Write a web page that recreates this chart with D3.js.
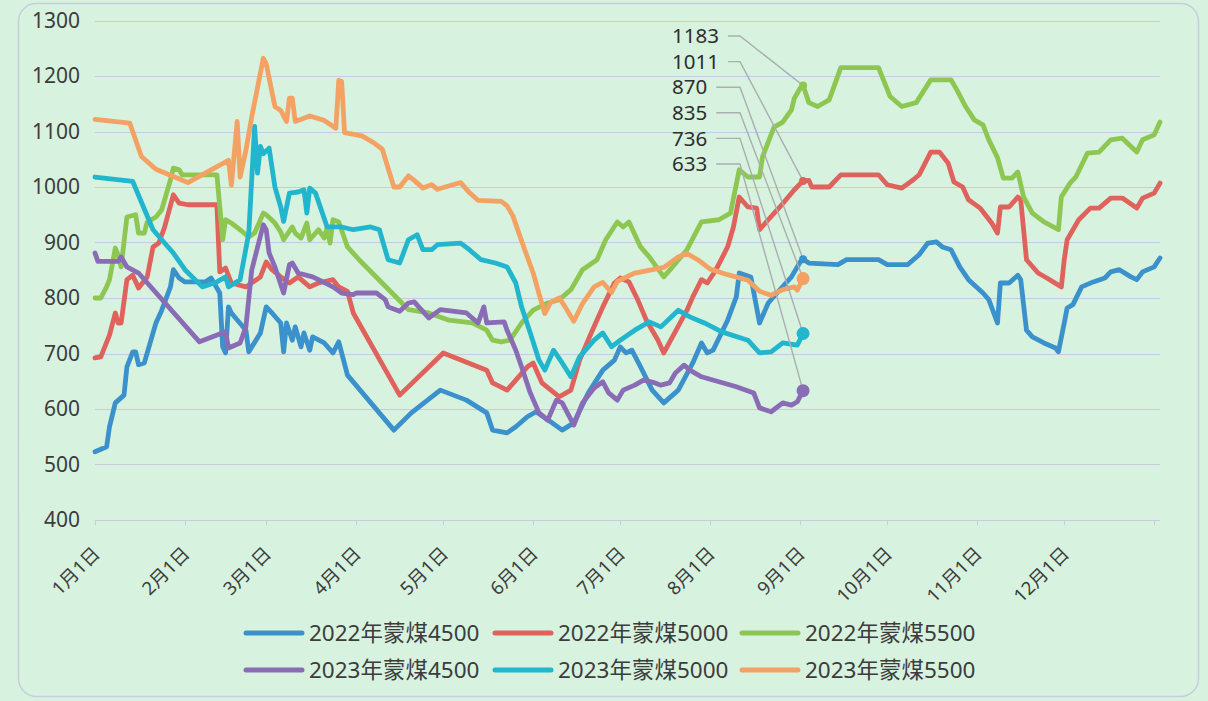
<!DOCTYPE html>
<html>
<head>
<meta charset="utf-8">
<script src="https://cdn.jsdelivr.net/npm/d3@7"></script>
<style>
  body { margin: 0; background: #d7f2df; }
  svg text { font-family: "Noto Sans", "Noto Sans CJK SC", sans-serif; fill: #3c3c3c; }
</style>
</head>
<body>
<div id="container"></div>
<script>
/* CONSTANTS AND GLOBALS */
const width = 1208,
  height = 701,
  margin = { top: 20.5, bottom: 181, left: 95, right: 48 };

/* DATA */
const yTicks = [400, 500, 600, 700, 800, 900, 1000, 1100, 1200, 1300];
const monthLabels = ["1月1日", "2月1日", "3月1日", "4月1日", "5月1日", "6月1日",
  "7月1日", "8月1日", "9月1日", "10月1日", "11月1日", "12月1日"];
const seriesNames = ["2022年蒙煤4500", "2022年蒙煤5000", "2022年蒙煤5500",
  "2023年蒙煤4500", "2023年蒙煤5000", "2023年蒙煤5500"];
const seriesColors = ["#3a91cb", "#e0625c", "#8dc752", "#8a6cb6", "#22b5ce", "#f4a263"];
const labelDay = "09-02";

const coal2022_4500 = [["2022-01-01",523],["2022-01-05",532],["2022-01-06",568],["2022-01-08",611],["2022-01-11",625],["2022-01-12",676],["2022-01-14",703],["2022-01-15",703],["2022-01-16",680],["2022-01-18",683],["2022-01-20",719],["2022-01-22",755],["2022-01-24",778],["2022-01-27",820],["2022-01-28",851],["2022-01-30",836],["2022-02-01",829],["2022-02-08",829],["2022-02-10",836],["2022-02-13",809],["2022-02-14",712],["2022-02-15",701],["2022-02-16",784],["2022-02-17",773],["2022-02-22",742],["2022-02-23",703],["2022-02-27",737],["2022-03-01",784],["2022-03-03",773],["2022-03-06",755],["2022-03-07",703],["2022-03-08",755],["2022-03-10",724],["2022-03-11",748],["2022-03-13",712],["2022-03-14",737],["2022-03-16",706],["2022-03-17",730],["2022-03-21",719],["2022-03-24",701],["2022-03-26",721],["2022-03-29",661],["2022-04-14",562],["2022-04-20",593],["2022-04-30",634],["2022-05-09",616],["2022-05-16",593],["2022-05-18",562],["2022-05-23",557],["2022-05-26",568],["2022-05-30",586],["2022-06-02",595],["2022-06-07",577],["2022-06-11",562],["2022-06-15",575],["2022-06-20",629],["2022-06-25",670],["2022-06-29",688],["2022-07-01",712],["2022-07-03",701],["2022-07-05",706],["2022-07-08",676],["2022-07-12",634],["2022-07-16",611],["2022-07-21",634],["2022-07-26",683],["2022-07-29",719],["2022-07-31",701],["2022-08-02",706],["2022-08-07",760],["2022-08-10",802],["2022-08-11",845],["2022-08-15",838],["2022-08-18",755],["2022-08-21",791],["2022-08-24",809],["2022-08-29",838],["2022-09-01",865],["2022-09-02",870],["2022-09-04",863],["2022-09-14",860],["2022-09-17",869],["2022-09-28",869],["2022-10-01",860],["2022-10-08",860],["2022-10-12",878],["2022-10-15",899],["2022-10-18",901],["2022-10-20",892],["2022-10-23",887],["2022-10-26",856],["2022-10-29",833],["2022-11-03",809],["2022-11-05",797],["2022-11-08",755],["2022-11-09",827],["2022-11-12",827],["2022-11-15",841],["2022-11-16",833],["2022-11-18",742],["2022-11-20",730],["2022-11-24",719],["2022-11-28",710],["2022-11-29",703],["2022-12-01",755],["2022-12-02",782],["2022-12-04",788],["2022-12-07",820],["2022-12-11",829],["2022-12-15",836],["2022-12-17",847],["2022-12-20",851],["2022-12-24",838],["2022-12-26",833],["2022-12-28",847],["2023-01-01",856],["2023-01-03",872]];

const coal2022_5000 = [["2022-01-01",692],["2022-01-03",694],["2022-01-06",733],["2022-01-08",773],["2022-01-09",755],["2022-01-10",755],["2022-01-12",833],["2022-01-14",841],["2022-01-16",818],["2022-01-19",838],["2022-01-21",892],["2022-01-23",899],["2022-01-25",928],["2022-01-28",986],["2022-01-30",971],["2022-02-02",968],["2022-02-12",968],["2022-02-13",847],["2022-02-15",854],["2022-02-17",827],["2022-02-22",820],["2022-02-27",838],["2022-03-01",865],["2022-03-03",851],["2022-03-06",838],["2022-03-09",827],["2022-03-12",838],["2022-03-16",820],["2022-03-19",827],["2022-03-24",833],["2022-03-26",820],["2022-03-29",812],["2022-03-31",773],["2022-04-16",625],["2022-05-01",701],["2022-05-16",670],["2022-05-18",647],["2022-05-23",634],["2022-05-26",652],["2022-05-30",676],["2022-06-01",683],["2022-06-04",647],["2022-06-10",622],["2022-06-14",634],["2022-06-17",688],["2022-06-21",737],["2022-06-25",784],["2022-06-29",827],["2022-07-01",836],["2022-07-04",829],["2022-07-07",797],["2022-07-10",760],["2022-07-14",724],["2022-07-16",701],["2022-07-19",730],["2022-07-24",778],["2022-07-26",802],["2022-07-29",833],["2022-07-31",827],["2022-08-03",851],["2022-08-07",892],["2022-08-09",928],["2022-08-11",982],["2022-08-14",964],["2022-08-17",962],["2022-08-18",923],["2022-08-21",941],["2022-08-25",964],["2022-08-30",995],["2022-09-02",1011],["2022-09-04",1012],["2022-09-05",1000],["2022-09-11",1000],["2022-09-15",1022],["2022-09-28",1022],["2022-10-01",1004],["2022-10-06",998],["2022-10-10",1013],["2022-10-12",1022],["2022-10-16",1063],["2022-10-19",1063],["2022-10-22",1043],["2022-10-24",1009],["2022-10-27",1000],["2022-10-29",977],["2022-11-02",962],["2022-11-06",935],["2022-11-08",917],["2022-11-09",964],["2022-11-12",964],["2022-11-15",982],["2022-11-16",977],["2022-11-18",869],["2022-11-22",845],["2022-11-25",836],["2022-11-30",820],["2022-12-01",869],["2022-12-02",905],["2022-12-06",941],["2022-12-10",962],["2022-12-13",962],["2022-12-17",980],["2022-12-21",980],["2022-12-26",962],["2022-12-28",980],["2023-01-01",989],["2023-01-03",1007]];

const coal2022_5500 = [["2022-01-01",800],["2022-01-03",800],["2022-01-05",820],["2022-01-06",833],["2022-01-08",890],["2022-01-09",877],["2022-01-10",856],["2022-01-12",946],["2022-01-15",950],["2022-01-16",917],["2022-01-18",917],["2022-01-19",937],["2022-01-22",946],["2022-01-24",959],["2022-01-27",1013],["2022-01-28",1034],["2022-01-30",1031],["2022-01-31",1022],["2022-02-12",1022],["2022-02-13",964],["2022-02-14",905],["2022-02-15",941],["2022-02-17",935],["2022-02-20",923],["2022-02-23",910],["2022-02-25",917],["2022-02-28",953],["2022-03-01",950],["2022-03-04",935],["2022-03-06",919],["2022-03-07",905],["2022-03-10",928],["2022-03-11",917],["2022-03-13",908],["2022-03-15",935],["2022-03-16",905],["2022-03-19",923],["2022-03-21",908],["2022-03-22",928],["2022-03-23",899],["2022-03-24",941],["2022-03-26",937],["2022-03-29",892],["2022-04-02",869],["2022-04-16",795],["2022-04-19",779],["2022-04-26",773],["2022-05-03",760],["2022-05-11",755],["2022-05-16",742],["2022-05-18",724],["2022-05-21",721],["2022-05-24",724],["2022-05-28",755],["2022-06-01",778],["2022-06-06",791],["2022-06-10",797],["2022-06-14",815],["2022-06-18",851],["2022-06-23",869],["2022-06-26",905],["2022-06-30",937],["2022-07-02",928],["2022-07-04",937],["2022-07-08",892],["2022-07-11",874],["2022-07-16",838],["2022-07-19",856],["2022-07-24",887],["2022-07-29",937],["2022-08-04",941],["2022-08-08",953],["2022-08-11",1031],["2022-08-14",1018],["2022-08-18",1018],["2022-08-19",1054],["2022-08-23",1108],["2022-08-26",1117],["2022-08-29",1139],["2022-08-30",1160],["2022-09-01",1178],["2022-09-02",1183],["2022-09-04",1152],["2022-09-07",1145],["2022-09-11",1157],["2022-09-15",1215],["2022-09-28",1215],["2022-10-02",1163],["2022-10-06",1145],["2022-10-11",1152],["2022-10-16",1193],["2022-10-23",1193],["2022-10-25",1175],["2022-10-28",1145],["2022-10-31",1121],["2022-11-03",1112],["2022-11-05",1085],["2022-11-08",1053],["2022-11-10",1016],["2022-11-13",1016],["2022-11-15",1027],["2022-11-17",982],["2022-11-20",953],["2022-11-24",937],["2022-11-29",923],["2022-11-30",982],["2022-12-03",1007],["2022-12-05",1018],["2022-12-09",1061],["2022-12-13",1063],["2022-12-17",1085],["2022-12-21",1088],["2022-12-26",1063],["2022-12-28",1085],["2023-01-01",1094],["2023-01-03",1117]];

const coal2023_4500 = [["2023-01-01",881],["2023-01-02",866],["2023-01-09",866],["2023-01-10",874],["2023-01-12",856],["2023-01-16",845],["2023-02-06",721],["2023-02-15",739],["2023-02-16",710],["2023-02-20",719],["2023-02-22",748],["2023-02-24",850],["2023-02-28",932],["2023-03-01",923],["2023-03-02",881],["2023-03-04",856],["2023-03-07",809],["2023-03-09",860],["2023-03-10",863],["2023-03-12",845],["2023-03-17",838],["2023-03-19",833],["2023-03-24",820],["2023-03-27",809],["2023-03-31",806],["2023-04-01",809],["2023-04-08",809],["2023-04-11",797],["2023-04-12",784],["2023-04-16",776],["2023-04-19",791],["2023-04-21",793],["2023-04-26",764],["2023-04-30",779],["2023-05-09",773],["2023-05-13",755],["2023-05-15",784],["2023-05-16",755],["2023-05-22",757],["2023-05-23",742],["2023-05-26",706],["2023-05-28",676],["2023-05-31",629],["2023-06-03",593],["2023-06-06",580],["2023-06-09",616],["2023-06-11",611],["2023-06-15",571],["2023-06-18",611],["2023-06-22",638],["2023-06-25",649],["2023-06-27",629],["2023-06-30",616],["2023-07-02",634],["2023-07-06",643],["2023-07-09",652],["2023-07-13",647],["2023-07-15",643],["2023-07-18",647],["2023-07-20",665],["2023-07-23",679],["2023-07-25",670],["2023-07-29",658],["2023-08-04",649],["2023-08-10",640],["2023-08-16",629],["2023-08-18",602],["2023-08-22",595],["2023-08-26",611],["2023-08-29",607],["2023-08-31",613],["2023-09-02",633]];

const coal2023_5000 = [["2023-01-01",1018],["2023-01-14",1010],["2023-01-21",923],["2023-01-28",881],["2023-02-01",851],["2023-02-07",820],["2023-02-12",829],["2023-02-15",838],["2023-02-16",820],["2023-02-20",833],["2023-02-23",917],["2023-02-25",1109],["2023-02-26",1025],["2023-02-27",1073],["2023-02-28",1060],["2023-03-02",1070],["2023-03-04",1000],["2023-03-06",964],["2023-03-07",938],["2023-03-09",989],["2023-03-12",991],["2023-03-14",995],["2023-03-15",953],["2023-03-16",998],["2023-03-18",989],["2023-03-22",928],["2023-03-27",928],["2023-03-31",923],["2023-04-06",928],["2023-04-09",923],["2023-04-12",869],["2023-04-16",863],["2023-04-19",905],["2023-04-22",914],["2023-04-24",887],["2023-04-27",887],["2023-04-29",896],["2023-05-07",899],["2023-05-10",887],["2023-05-14",869],["2023-05-19",863],["2023-05-23",856],["2023-05-26",827],["2023-05-28",784],["2023-05-31",737],["2023-06-03",688],["2023-06-05",670],["2023-06-08",706],["2023-06-11",683],["2023-06-14",658],["2023-06-17",694],["2023-06-22",724],["2023-06-25",737],["2023-06-28",712],["2023-07-01",724],["2023-07-06",742],["2023-07-11",757],["2023-07-15",748],["2023-07-21",778],["2023-07-25",766],["2023-07-30",755],["2023-08-05",739],["2023-08-14",724],["2023-08-18",701],["2023-08-22",703],["2023-08-26",719],["2023-08-31",715],["2023-09-02",736]];

const coal2023_5500 = [["2023-01-01",1122],["2023-01-13",1115],["2023-01-17",1055],["2023-01-22",1032],["2023-02-02",1008],["2023-02-16",1048],["2023-02-17",1003],["2023-02-19",1118],["2023-02-20",1018],["2023-02-22",1066],["2023-02-24",1126],["2023-02-28",1232],["2023-03-01",1222],["2023-03-04",1145],["2023-03-06",1138],["2023-03-08",1118],["2023-03-09",1160],["2023-03-10",1160],["2023-03-11",1118],["2023-03-16",1128],["2023-03-21",1120],["2023-03-25",1106],["2023-03-26",1192],["2023-03-27",1190],["2023-03-28",1098],["2023-04-03",1092],["2023-04-07",1080],["2023-04-10",1068],["2023-04-14",1000],["2023-04-16",1000],["2023-04-19",1020],["2023-04-21",1012],["2023-04-24",998],["2023-04-27",1004],["2023-04-29",996],["2023-05-07",1008],["2023-05-10",990],["2023-05-13",976],["2023-05-21",974],["2023-05-23",966],["2023-05-25",948],["2023-05-29",888],["2023-06-01",845],["2023-06-03",808],["2023-06-05",772],["2023-06-07",792],["2023-06-10",800],["2023-06-12",784],["2023-06-15",758],["2023-06-18",790],["2023-06-22",820],["2023-06-25",828],["2023-06-28",810],["2023-06-30",830],["2023-07-06",845],["2023-07-13",852],["2023-07-16",855],["2023-07-21",874],["2023-07-24",880],["2023-07-28",868],["2023-08-01",852],["2023-08-07",842],["2023-08-14",832],["2023-08-18",812],["2023-08-22",805],["2023-08-26",815],["2023-08-30",820],["2023-08-31",814],["2023-09-02",835]];

const seriesData = [coal2022_4500, coal2022_5000, coal2022_5500, coal2023_4500, coal2023_5000, coal2023_5500];

/* HELPERS */
const parseDate = d3.timeParse("%Y-%m-%d");
// every series is laid on the same 2022 calendar axis
const series = seriesData.map((rows, i) => {
  const base = +rows[0][0].slice(0, 4);
  return {
    name: seriesNames[i],
    color: seriesColors[i],
    values: rows.map(r => ({
      key: r[0].slice(5),
      date: d3.timeYear.offset(parseDate(r[0]), 2022 - base),
      value: r[1]
    }))
  };
});

/* SCALES */
const xScale = d3.scaleTime()
  .domain([new Date(2022, 0, 1), new Date(2023, 0, 3)])
  .range([margin.left, width - margin.right]);

const yScale = d3.scaleLinear()
  .domain([400, 1300])
  .range([height - margin.bottom, margin.top]);

/* HTML ELEMENTS */
const svg = d3.select("#container")
  .append("svg")
  .attr("width", width)
  .attr("height", height);

// frame
svg.append("rect")
  .attr("x", 18.5).attr("y", 3.5)
  .attr("width", 1180).attr("height", 693)
  .attr("rx", 18)
  .attr("fill", "#d7f2df")
  .attr("stroke", "#c6cede")
  .attr("stroke-width", 1.5);

// gridlines + y labels
svg.append("g")
  .selectAll("line")
  .data(yTicks)
  .join("line")
  .attr("x1", margin.left)
  .attr("x2", width - margin.right)
  .attr("y1", d => Math.round(yScale(d)) + 0.5)
  .attr("y2", d => Math.round(yScale(d)) + 0.5)
  .attr("stroke", "#cbc9de")
  .attr("stroke-width", 1);

svg.append("g")
  .selectAll("text")
  .data(yTicks)
  .join("text")
  .attr("x", 80)
  .attr("y", d => yScale(d))
  .attr("dy", "0.35em")
  .attr("text-anchor", "end")
  .style("font-size", "21px")
  .text(d => d);

// x ticks
const monthStarts = d3.timeMonth.range(new Date(2022, 0, 1), new Date(2023, 0, 2));
svg.append("g")
  .selectAll("line")
  .data(monthStarts)
  .join("line")
  .attr("x1", d => Math.round(xScale(d)) + 0.5)
  .attr("x2", d => Math.round(xScale(d)) + 0.5)
  .attr("y1", yScale(400))
  .attr("y2", yScale(400) + 5)
  .attr("stroke", "#cbc9de");

svg.append("g")
  .selectAll("text")
  .data(monthLabels)
  .join("text")
  .attr("transform", (d, i) => `translate(${xScale(monthStarts[i]) + 6},${yScale(400) + 35}) rotate(-45)`)
  .attr("text-anchor", "end")
  .style("font-size", "18.5px")
  .text(d => d);

// lines
const line = d3.line()
  .x(d => xScale(d.date))
  .y(d => yScale(d.value));

svg.append("g")
  .selectAll("path")
  .data(series)
  .join("path")
  .attr("d", d => line(d.values))
  .attr("fill", "none")
  .attr("stroke", d => d.color)
  .attr("stroke-width", 4.8)
  .attr("stroke-linejoin", "round")
  .attr("stroke-linecap", "round");

// labelled points
const marked = series.map(s => ({ s, p: s.values.find(v => v.key === labelDay) }))
  .sort((a, b) => b.p.value - a.p.value);

const leaders = svg.append("g");
const labelX = 672, labelY0 = 36, labelStep = 25.6, elbowX = 740;

marked.forEach((m, i) => {
  const ly = labelY0 + i * labelStep;
  const t = svg.append("text")
    .attr("x", labelX)
    .attr("y", ly)
    .attr("dy", "0.35em")
    .style("font-size", "20.5px")
    .style("fill", "#2e2e2e")
    .text(m.p.value);
  const tw = t.node().getComputedTextLength();
  leaders.append("polyline")
    .attr("points", [[labelX + tw + 9, ly], [elbowX, ly], [xScale(m.p.date), yScale(m.p.value)]].join(" "))
    .attr("fill", "none")
    .attr("stroke", "#a9aeb0")
    .attr("stroke-width", 1.4);
});

svg.append("g")
  .selectAll("circle")
  .data(marked)
  .join("circle")
  .attr("cx", d => xScale(d.p.date))
  .attr("cy", d => yScale(d.p.value))
  .attr("r", d => d.s.name.startsWith("2023") ? 6.5 : 4)
  .attr("fill", d => d.s.color);

// legend
const legendCols = [246, 495, 742], legendRows = [633, 670];
const legend = svg.append("g")
  .selectAll("g")
  .data(series)
  .join("g")
  .attr("transform", (d, i) => `translate(${legendCols[i % 3]},${legendRows[Math.floor(i / 3)]})`);

legend.append("line")
  .attr("x1", 0).attr("x2", 56)
  .attr("stroke", d => d.color)
  .attr("stroke-width", 5)
  .attr("stroke-linecap", "round");

legend.append("text")
  .attr("x", 63)
  .attr("dy", "0.35em")
  .style("font-size", "22.5px")
  .text(d => d.name);
</script>
</body>
</html>
